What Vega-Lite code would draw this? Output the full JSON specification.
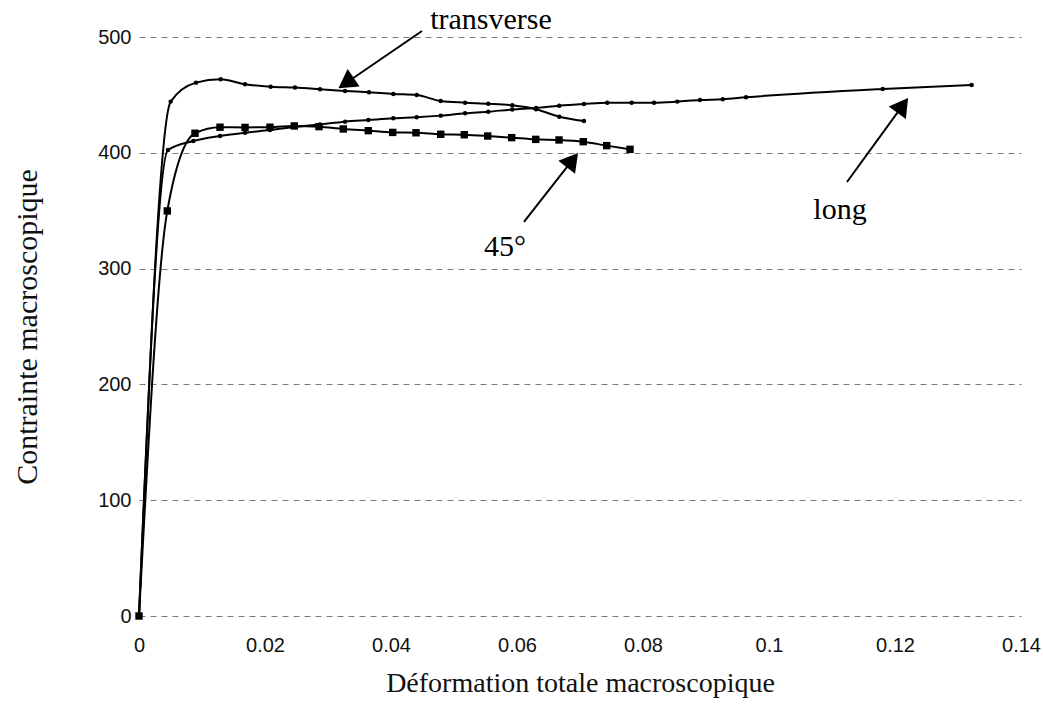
{
  "$schema": "https://vega.github.io/schema/vega-lite/v6.json",
  "width": 882,
  "height": 579,
  "autosize": "none",
  "padding": {"left": 139, "top": 37, "right": 22, "bottom": 98},
  "background": "white",
  "config": {
    "view": {"stroke": null},
    "axis": {
      "labelFont": "Liberation Sans",
      "labelFontSize": 20,
      "labelColor": "#111",
      "labelFlush": false,
      "titleFont": "Liberation Serif",
      "titleFontWeight": "normal",
      "titleColor": "#111",
      "domain": false,
      "ticks": false,
      "gridColor": "#444",
      "gridDash": [6, 5],
      "gridOpacity": 0.7
    }
  },
  "datasets": {
    "curves": [
      {"serie": "transverse", "x": 0, "y": 0},
      {"serie": "transverse", "x": 0.00503, "y": 444.2},
      {"serie": "transverse", "x": 0.00905, "y": 460.6},
      {"serie": "transverse", "x": 0.01297, "y": 463.5},
      {"serie": "transverse", "x": 0.01683, "y": 459.2},
      {"serie": "transverse", "x": 0.0209, "y": 457.1},
      {"serie": "transverse", "x": 0.02476, "y": 456.3},
      {"serie": "transverse", "x": 0.02873, "y": 454.9},
      {"serie": "transverse", "x": 0.0327, "y": 453.4},
      {"serie": "transverse", "x": 0.03651, "y": 452.3},
      {"serie": "transverse", "x": 0.04037, "y": 450.8},
      {"serie": "transverse", "x": 0.04408, "y": 449.9},
      {"serie": "transverse", "x": 0.04789, "y": 444.7},
      {"serie": "transverse", "x": 0.05175, "y": 443.3},
      {"serie": "transverse", "x": 0.05544, "y": 442.4},
      {"serie": "transverse", "x": 0.05925, "y": 441.0},
      {"serie": "transverse", "x": 0.06302, "y": 437.6},
      {"serie": "transverse", "x": 0.06671, "y": 431.2},
      {"serie": "transverse", "x": 0.07063, "y": 427.5},
      {"serie": "long", "x": 0, "y": 0},
      {"serie": "long", "x": 0.0046, "y": 402.4},
      {"serie": "long", "x": 0.00862, "y": 410.2},
      {"serie": "long", "x": 0.01286, "y": 414.5},
      {"serie": "long", "x": 0.01683, "y": 417.4},
      {"serie": "long", "x": 0.02079, "y": 419.7},
      {"serie": "long", "x": 0.02476, "y": 422.3},
      {"serie": "long", "x": 0.02873, "y": 424.5},
      {"serie": "long", "x": 0.0327, "y": 426.9},
      {"serie": "long", "x": 0.0364, "y": 428.3},
      {"serie": "long", "x": 0.04037, "y": 429.8},
      {"serie": "long", "x": 0.04408, "y": 430.7},
      {"serie": "long", "x": 0.04789, "y": 432.1},
      {"serie": "long", "x": 0.05175, "y": 434.1},
      {"serie": "long", "x": 0.05544, "y": 435.5},
      {"serie": "long", "x": 0.05925, "y": 437.4},
      {"serie": "long", "x": 0.06302, "y": 438.7},
      {"serie": "long", "x": 0.06671, "y": 440.7},
      {"serie": "long", "x": 0.07063, "y": 442.2},
      {"serie": "long", "x": 0.07433, "y": 443.3},
      {"serie": "long", "x": 0.0782, "y": 443.3},
      {"serie": "long", "x": 0.08175, "y": 443.3},
      {"serie": "long", "x": 0.08544, "y": 444.2},
      {"serie": "long", "x": 0.08905, "y": 445.6},
      {"serie": "long", "x": 0.09265, "y": 446.2},
      {"serie": "long", "x": 0.09635, "y": 447.9},
      {"serie": "long", "x": 0.11805, "y": 455.1},
      {"serie": "long", "x": 0.13217, "y": 458.6},
      {"serie": "45°", "x": 0, "y": 0},
      {"serie": "45°", "x": 0.00449, "y": 349.8},
      {"serie": "45°", "x": 0.00889, "y": 416.9},
      {"serie": "45°", "x": 0.01286, "y": 422.1},
      {"serie": "45°", "x": 0.01683, "y": 421.9},
      {"serie": "45°", "x": 0.02079, "y": 422.1},
      {"serie": "45°", "x": 0.02465, "y": 423.2},
      {"serie": "45°", "x": 0.02857, "y": 422.6},
      {"serie": "45°", "x": 0.03243, "y": 420.6},
      {"serie": "45°", "x": 0.0364, "y": 419.1},
      {"serie": "45°", "x": 0.04027, "y": 417.6},
      {"serie": "45°", "x": 0.04397, "y": 417.3},
      {"serie": "45°", "x": 0.04789, "y": 416.0},
      {"serie": "45°", "x": 0.05163, "y": 415.6},
      {"serie": "45°", "x": 0.05535, "y": 414.5},
      {"serie": "45°", "x": 0.05916, "y": 413.1},
      {"serie": "45°", "x": 0.06297, "y": 411.6},
      {"serie": "45°", "x": 0.06667, "y": 411.1},
      {"serie": "45°", "x": 0.07052, "y": 409.6},
      {"serie": "45°", "x": 0.07424, "y": 406.2},
      {"serie": "45°", "x": 0.07794, "y": 403.0}
    ],
    "arrows": [
      {"label": "transverse", "xt": 0.04492, "yt": 505.2, "xh": 0.03286, "yh": 460.3, "angle": 235.8},
      {"label": "long", "xt": 0.11238, "yt": 374.8, "xh": 0.12122, "yh": 441.0, "angle": 36},
      {"label": "45°", "xt": 0.06111, "yt": 340.3, "xh": 0.06879, "yh": 393.7, "angle": 38.2}
    ],
    "labels": [
      {"text": "transverse", "x": 0.05587, "y": 514.7},
      {"text": "long", "x": 0.11127, "y": 350.6},
      {"text": "45°", "x": 0.0581, "y": 318.7}
    ]
  },
  "layer": [
    {
      "data": {"name": "curves"},
      "mark": {"type": "line", "interpolate": "monotone", "color": "black", "strokeWidth": 2},
      "encoding": {
        "x": {
          "field": "x", "type": "quantitative",
          "scale": {"domain": [0, 0.14], "nice": false},
          "axis": {
            "values": [0, 0.02, 0.04, 0.06, 0.08, 0.1, 0.12, 0.14],
            "format": "~g",
            "grid": false,
            "labelPadding": 19,
            "title": "Déformation totale macroscopique",
            "titleFontSize": 28,
            "titlePadding": 14
          }
        },
        "y": {
          "field": "y", "type": "quantitative",
          "scale": {"domain": [0, 500], "nice": false},
          "axis": {
            "values": [0, 100, 200, 300, 400, 500],
            "grid": true,
            "labelPadding": 8,
            "title": "Contrainte macroscopique",
            "titleFontSize": 30,
            "titlePadding": 55
          }
        },
        "detail": {"field": "serie"},
        "order": {"field": "x", "type": "quantitative"}
      }
    },
    {
      "data": {"name": "curves"},
      "transform": [{"filter": "datum.serie !== '45°'"}],
      "mark": {"type": "point", "filled": true, "shape": "circle", "color": "black", "size": 20, "opacity": 1},
      "encoding": {
        "x": {"field": "x", "type": "quantitative"},
        "y": {"field": "y", "type": "quantitative"}
      }
    },
    {
      "data": {"name": "curves"},
      "transform": [{"filter": "datum.serie === '45°'"}],
      "mark": {"type": "point", "filled": true, "shape": "square", "color": "black", "size": 55, "opacity": 1},
      "encoding": {
        "x": {"field": "x", "type": "quantitative"},
        "y": {"field": "y", "type": "quantitative"}
      }
    },
    {
      "data": {"name": "arrows"},
      "mark": {"type": "rule", "color": "black", "strokeWidth": 2},
      "encoding": {
        "x": {"field": "xt", "type": "quantitative"},
        "y": {"field": "yt", "type": "quantitative"},
        "x2": {"field": "xh"},
        "y2": {"field": "yh"}
      }
    },
    {
      "data": {"name": "arrows"},
      "mark": {"type": "point", "shape": "triangle-up", "filled": true, "color": "black", "size": 450, "opacity": 1},
      "encoding": {
        "x": {"field": "xh", "type": "quantitative"},
        "y": {"field": "yh", "type": "quantitative"},
        "angle": {"field": "angle", "type": "quantitative", "scale": null}
      }
    },
    {
      "data": {"name": "labels"},
      "mark": {"type": "text", "font": "Liberation Serif", "fontSize": 30, "color": "black", "align": "center", "baseline": "middle"},
      "encoding": {
        "x": {"field": "x", "type": "quantitative"},
        "y": {"field": "y", "type": "quantitative"},
        "text": {"field": "text"}
      }
    }
  ]
}
